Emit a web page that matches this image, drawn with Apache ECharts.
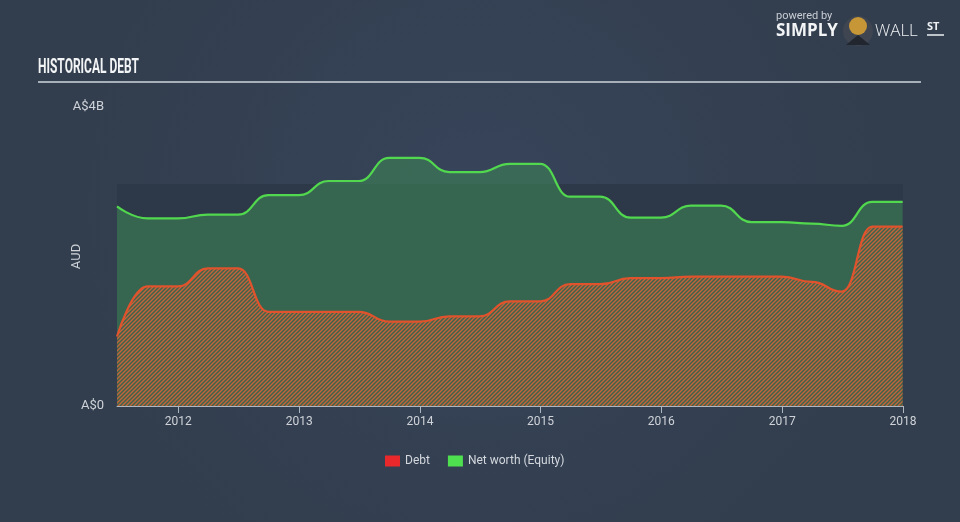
<!DOCTYPE html>
<html>
<head>
<meta charset="utf-8">
<script src="https://cdn.jsdelivr.net/npm/echarts@6/dist/echarts.min.js"></script>
<style>
html,body{margin:0;padding:0;background:#344150;}
#chart{width:960px;height:522px;}
</style>
</head>
<body>
<div id="chart"></div>
<script>
// ---- data (A$ billions) ----
const dates = ['2011-06-30','2011-09-30','2011-12-31','2012-03-31','2012-06-30','2012-09-30','2012-12-31','2013-03-31','2013-06-30','2013-09-30','2013-12-31','2014-03-31','2014-06-30','2014-09-30','2014-12-31','2015-03-31','2015-06-30','2015-09-30','2015-12-31','2016-03-31','2016-06-30','2016-09-30','2016-12-31','2017-03-31','2017-06-30','2017-09-30','2017-12-31'];
const debt = [0.93,1.60,1.60,1.84,1.84,1.26,1.26,1.26,1.26,1.13,1.13,1.20,1.20,1.40,1.40,1.63,1.63,1.71,1.71,1.73,1.73,1.73,1.73,1.66,1.53,2.40,2.40];
const equity = [2.67,2.51,2.51,2.56,2.56,2.82,2.82,3.01,3.01,3.32,3.32,3.13,3.13,3.24,3.24,2.80,2.80,2.52,2.52,2.68,2.68,2.46,2.46,2.44,2.41,2.73,2.73];
const yTicks = [0, 4];
const plotBandTop = 2.97;
const xMin = '2011-06-30';
const xMax = '2018-01-01';
const seriesNames = ['Debt', 'Net worth (Equity)'];

// hatch pattern for debt area
const hatch = document.createElement('canvas');
hatch.width = 4; hatch.height = 4;
(function(){
  const c = hatch.getContext('2d');
  c.fillStyle = 'rgba(72,96,70,0.55)';
  c.fillRect(0, 0, 4, 4);
  c.strokeStyle = 'rgba(206,102,58,0.92)';
  c.lineWidth = 1.35;
  c.beginPath();
  c.moveTo(-1,5); c.lineTo(5,-1);
  c.moveTo(-3,3); c.lineTo(3,-3);
  c.moveTo(1,7); c.lineTo(7,1);
  c.stroke();
})();

const chart = echarts.init(document.getElementById('chart'), null, {renderer:'canvas'});
const FONT = 'Roboto, "Noto Sans", sans-serif';

chart.setOption({
  backgroundColor: {
    type: 'radial', x: 0.5, y: 0.4, r: 0.8,
    colorStops: [{offset:0, color:'#37445a'}, {offset:1, color:'#323e4d'}]
  },
  animation: false,
  grid: {left: 117, right: 57, top: 107, bottom: 116, containLabel: false},
  legend: {
    data: [
      {name: seriesNames[0], itemStyle: {color: '#e8282b'}},
      {name: seriesNames[1], itemStyle: {color: '#4ee04f'}}
    ],
    left: 380, top: 450,
    itemWidth: 15, itemHeight: 11, itemGap: 18,
    icon: 'rect',
    textStyle: {color: '#d4d8de', fontSize: 12, fontFamily: FONT}
  },
  xAxis: {
    type: 'time',
    min: xMin, max: xMax,
    minInterval: 365 * 24 * 3600 * 1000,
    maxInterval: 366 * 24 * 3600 * 1000,
    axisLine: {show: true, lineStyle: {color: '#aeb6c0', width: 1}},
    axisTick: {show: true, length: 7, lineStyle: {color: '#aeb6c0'}},
    splitLine: {show: false},
    axisLabel: {
      color: '#cfd3d9', fontSize: 12, fontFamily: FONT, margin: 10,
      formatter: '{yyyy}', showMinLabel: false, showMaxLabel: true, hideOverlap: false
    }
  },
  yAxis: {
    type: 'value', min: yTicks[0], max: yTicks[1], interval: yTicks[1] - yTicks[0],
    name: 'AUD', nameLocation: 'middle', nameGap: 34, nameRotate: 90, nameMoveOverlap: false,
    nameTextStyle: {color: '#cfd3d9', fontSize: 13, fontFamily: FONT},
    axisLine: {show: false}, axisTick: {show: false}, splitLine: {show: false},
    axisLabel: {
      color: '#cfd3d9', fontSize: 13, fontFamily: FONT, margin: 13,
      formatter: v => v === 0 ? 'A$0' : 'A$' + v + 'B'
    }
  },
  series: [
    {
      name: 'band', type: 'line', z: 0, silent: true,
      data: [[xMin, plotBandTop], [xMax, plotBandTop]],
      showSymbol: false, lineStyle: {width: 0, opacity: 0},
      areaStyle: {color: '#2d3948', opacity: 1}
    },
    {
      name: seriesNames[1], type: 'line', z: 2,
      data: dates.map((d, i) => [d, equity[i]]),
      smooth: 0.5, smoothMonotone: 'x', showSymbol: false,
      lineStyle: {color: '#52d84e', width: 2.2},
      itemStyle: {color: '#4ee04f'},
      areaStyle: {color: 'rgba(62,136,86,0.57)', opacity: 1}
    },
    {
      name: seriesNames[0], type: 'line', z: 3,
      data: dates.map((d, i) => [d, debt[i]]),
      smooth: 0.5, smoothMonotone: 'x', showSymbol: false,
      lineStyle: {color: '#e0532c', width: 2.2},
      itemStyle: {color: '#e8282b'},
      areaStyle: {color: {image: hatch, repeat: 'repeat'}, opacity: 1}
    }
  ],
  graphic: [
    {type: 'text', x: 38, y: 58, scaleX: 0.6, style: {text: 'HISTORICAL DEBT', fill: '#f2f4f6',
      font: 'bold 20px Roboto, sans-serif'}},
    {type: 'line', shape: {x1: 38, y1: 82, x2: 921, y2: 82}, style: {stroke: '#a7afb9', lineWidth: 2}},
    {type: 'text', left: 776, top: 11, style: {text: 'powered by', fill: '#c9ced4', font: '11px ' + FONT}},
    {type: 'text', left: 776, top: 23, style: {text: 'SIMPLY', fill: '#f2f4f6', font: 'bold 17px "Open Sans", sans-serif'}},
    {type: 'circle', shape: {cx: 858, cy: 31, r: 15}, style: {fill: '#3f4652'}},
    {type: 'circle', shape: {cx: 858, cy: 26, r: 9}, style: {fill: '#c79636'}},
    {type: 'polygon', shape: {points: [[846,45],[858,35],[870,45]]}, style: {fill: '#22262e'}},
    {type: 'text', left: 875, top: 23, style: {text: 'WALL', fill: '#eef0f3', font: '300 17px "Open Sans", sans-serif'}},
    {type: 'text', left: 927, top: 21, style: {text: 'ST', fill: '#eef0f3', font: 'bold 11px "Open Sans", sans-serif'}},
    {type: 'line', shape: {x1: 927, y1: 35, x2: 944, y2: 35}, style: {stroke: '#eef0f3', lineWidth: 1.5}}
  ]
});
</script>
</body>
</html>
